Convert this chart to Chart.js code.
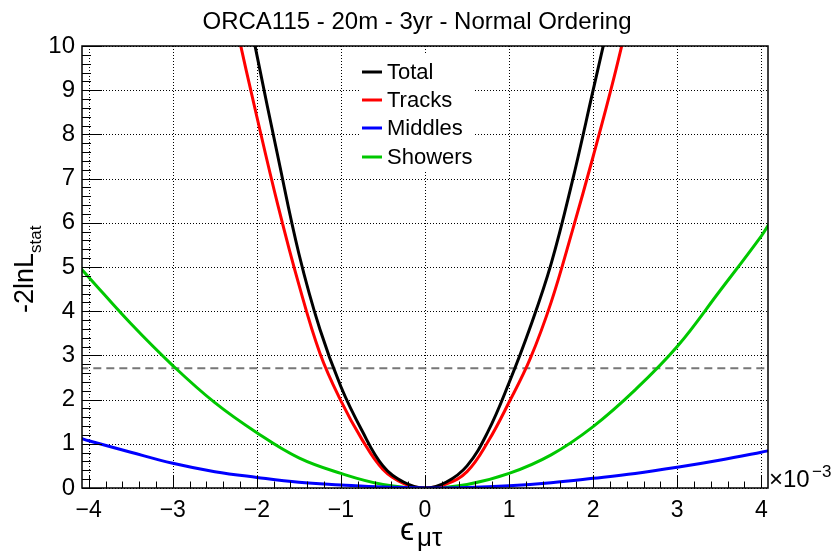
<!DOCTYPE html>
<html>
<head>
<meta charset="utf-8">
<script src="https://cdn.jsdelivr.net/npm/chart.js@4.4.1/dist/chart.umd.min.js"></script>
<style>
  html, body { margin: 0; padding: 0; background: #fff; }
  #wrap { position: relative; width: 833px; height: 552px; }
</style>
</head>
<body>
<div id="wrap"><canvas id="chiChart"></canvas></div>
<script>
// ORCA115 - 20m - 3yr - NO : -2lnL profile vs eps_mutau (x in units of 1e-3)

const xWide = [-4.1, -4, -3.5, -3, -2.5, -2, -1.5, -1, -0.5, 0, 0.5, 1, 1.5, 2, 2.5, 3, 3.5, 4, 4.1];
const showers = [4.98, 4.77, 3.72, 2.77, 1.93, 1.25, 0.68, 0.33, 0.08, 0, 0.08, 0.33, 0.75, 1.39, 2.22, 3.2, 4.44, 5.70, 6.0];
const middles = [1.13, 1.07, 0.81, 0.56, 0.37, 0.24, 0.13, 0.07, 0.02, 0, 0.01, 0.05, 0.12, 0.22, 0.33, 0.47, 0.63, 0.81, 0.85];

const xNarrow = [-2.5, -2.25, -2, -1.75, -1.5, -1.25, -1, -0.75, -0.5, -0.25, 0, 0.25, 0.5, 0.75, 1, 1.25, 1.5, 1.75, 2, 2.25, 2.5];
const total = [14.8, 12.2, 9.8, 7.5, 5.3, 3.59, 2.29, 1.3, 0.5, 0.13, 0, 0.13, 0.5, 1.28, 2.38, 3.63, 5.07, 6.92, 9.0, 11.1, 13.3];
const tracks = [12.7, 10.5, 8.4, 6.4, 4.6, 3.05, 1.97, 1.1, 0.42, 0.1, 0, 0.09, 0.37, 1.05, 1.94, 2.92, 4.2, 5.8, 7.5, 9.3, 11.3];

const thresholdX = [-4.1, 4.1];
const thresholdY = [2.71, 2.71];

const xTicks = [-4, -3, -2, -1, 0, 1, 2, 3, 4];
const yTicks = [0, 1, 2, 3, 4, 5, 6, 7, 8, 9, 10];

const FONT = '"Liberation Sans", Arial, Helvetica, sans-serif';

function toPoints(xs, ys) {
  return xs.map((x, i) => ({ x: x, y: ys[i] }));
}

function minusSign(v) {
  return String(v).replace('-', '\u2212');
}

// ROOT-like frame: dotted grid, inward ticks, legend, titles
const rootStyle = {
  id: 'rootStyle',
  beforeDatasetsDraw(chart) {
    const { ctx, chartArea: a, scales: { x, y } } = chart;
    ctx.save();
    ctx.strokeStyle = '#000';
    ctx.lineWidth = 1;
    ctx.setLineDash([1, 2]);
    x.ticks.forEach(t => {
      const px = Math.round(x.getPixelForValue(t.value)) + 0.5;
      ctx.beginPath(); ctx.moveTo(px, a.top); ctx.lineTo(px, a.bottom); ctx.stroke();
    });
    y.ticks.forEach(t => {
      const py = Math.round(y.getPixelForValue(t.value)) + 0.5;
      ctx.beginPath(); ctx.moveTo(a.left, py); ctx.lineTo(a.right, py); ctx.stroke();
    });
    ctx.setLineDash([]);
    // legend background hides the grid behind it
    ctx.fillStyle = '#fff';
    ctx.fillRect(360, 55, 113, 115);
    ctx.restore();
  },
  afterDatasetsDraw(chart) {
    const { ctx, chartArea: a, scales: { x, y } } = chart;
    ctx.save();
    ctx.strokeStyle = '#000';
    ctx.lineWidth = 1;
    // minor + major ticks, drawn inward
    for (let v = -4; v <= 4.001; v += 0.2) {
      const px = Math.round(x.getPixelForValue(v)) + 0.5;
      const major = Math.abs(v - Math.round(v)) < 0.01;
      ctx.beginPath(); ctx.moveTo(px, a.bottom); ctx.lineTo(px, a.bottom - (major ? 13 : 6.5)); ctx.stroke();
    }
    for (let v = 0; v <= 10.001; v += 0.2) {
      const py = Math.round(y.getPixelForValue(v)) + 0.5;
      const major = Math.abs(v - Math.round(v)) < 0.01;
      ctx.beginPath(); ctx.moveTo(a.left, py); ctx.lineTo(a.left + (major ? 20 : 9), py); ctx.stroke();
    }
    ctx.lineWidth = 1.5;
    ctx.strokeRect(a.left, a.top, a.right - a.left, a.bottom - a.top);
    ctx.restore();
  },
  afterDraw(chart) {
    const { ctx } = chart;
    ctx.save();
    ctx.fillStyle = '#000';
    ctx.textBaseline = 'alphabetic';

    // title
    ctx.font = '24px ' + FONT;
    ctx.textAlign = 'center';
    ctx.fillText('ORCA115 - 20m - 3yr - Normal Ordering', 417, 29);

    // legend
    ctx.textAlign = 'left';
    ctx.textBaseline = 'middle';
    ctx.font = '22px ' + FONT;
    const rows = [72, 100, 128, 157];
    chart.data.datasets.filter(d => d.inLegend).forEach((d, i) => {
      ctx.strokeStyle = d.borderColor;
      ctx.lineWidth = 3;
      ctx.beginPath(); ctx.moveTo(362, rows[i]); ctx.lineTo(382, rows[i]); ctx.stroke();
      ctx.fillText(d.label, 387, rows[i] + 1);
    });

    // x axis title
    ctx.textBaseline = 'alphabetic';
    ctx.font = '32px ' + FONT;
    ctx.fillText('\u03f5', 400, 540);
    ctx.font = '26px ' + FONT;
    ctx.fillText('\u03bc\u03c4', 417, 546);

    // exponent label
    ctx.font = '24px ' + FONT;
    ctx.fillText('\u00d710', 769, 487);
    ctx.font = '17px ' + FONT;
    ctx.fillText('\u22123', 812, 477);

    // y axis title (rotated)
    ctx.translate(33, 313);
    ctx.rotate(-Math.PI / 2);
    ctx.font = '27px ' + FONT;
    ctx.fillText('-2lnL', 0, 0);
    const w = ctx.measureText('-2lnL').width;
    ctx.font = '17px ' + FONT;
    ctx.fillText('stat', w, 8);
    ctx.restore();
  }
};

const lineBase = {
  pointRadius: 0,
  borderWidth: 3,
  fill: false,
  tension: 0.4
};

new Chart(document.getElementById('chiChart'), {
  type: 'line',
  data: {
    datasets: [
      Object.assign({ label: 'Total', data: toPoints(xNarrow, total), borderColor: '#000000', order: 1, inLegend: true }, lineBase),
      Object.assign({ label: 'Tracks', data: toPoints(xNarrow, tracks), borderColor: '#ff0000', order: 2, inLegend: true }, lineBase),
      Object.assign({ label: 'Middles', data: toPoints(xWide, middles), borderColor: '#0000ff', order: 0, inLegend: true }, lineBase),
      Object.assign({ label: 'Showers', data: toPoints(xWide, showers), borderColor: '#00c800', order: 3, inLegend: true }, lineBase),
      {
        label: '90% CL',
        data: toPoints(thresholdX, thresholdY),
        borderColor: '#777777',
        borderWidth: 2,
        borderDash: [8, 5],
        pointRadius: 0,
        order: 5,
        inLegend: false
      }
    ]
  },
  options: {
    responsive: true,
    maintainAspectRatio: false,
    animation: false,
    events: [],
    layout: { padding: { top: 46, right: 65, left: 0, bottom: 0 } },
    plugins: {
      legend: { display: false },
      tooltip: { enabled: false },
      title: { display: false }
    },
    scales: {
      x: {
        type: 'linear',
        min: -4.08,
        max: 4.08,
        afterFit: s => { s.height = 64; },
        afterBuildTicks: s => { s.ticks = xTicks.map(v => ({ value: v })); },
        grid: { display: false, drawTicks: false },
        border: { display: false },
        ticks: {
          color: '#000',
          padding: 9,
          maxRotation: 0,
          autoSkip: false,
          font: { family: FONT, size: 23 },
          callback: v => minusSign(v)
        }
      },
      y: {
        type: 'linear',
        min: 0,
        max: 10,
        afterFit: s => { s.width = 82; },
        afterBuildTicks: s => { s.ticks = yTicks.map(v => ({ value: v })); },
        grid: { display: false, drawTicks: false },
        border: { display: false },
        ticks: {
          color: '#000',
          padding: 7,
          autoSkip: false,
          font: { family: FONT, size: 24 },
          callback: v => String(v)
        }
      }
    }
  },
  plugins: [rootStyle]
});
</script>
</body>
</html>
